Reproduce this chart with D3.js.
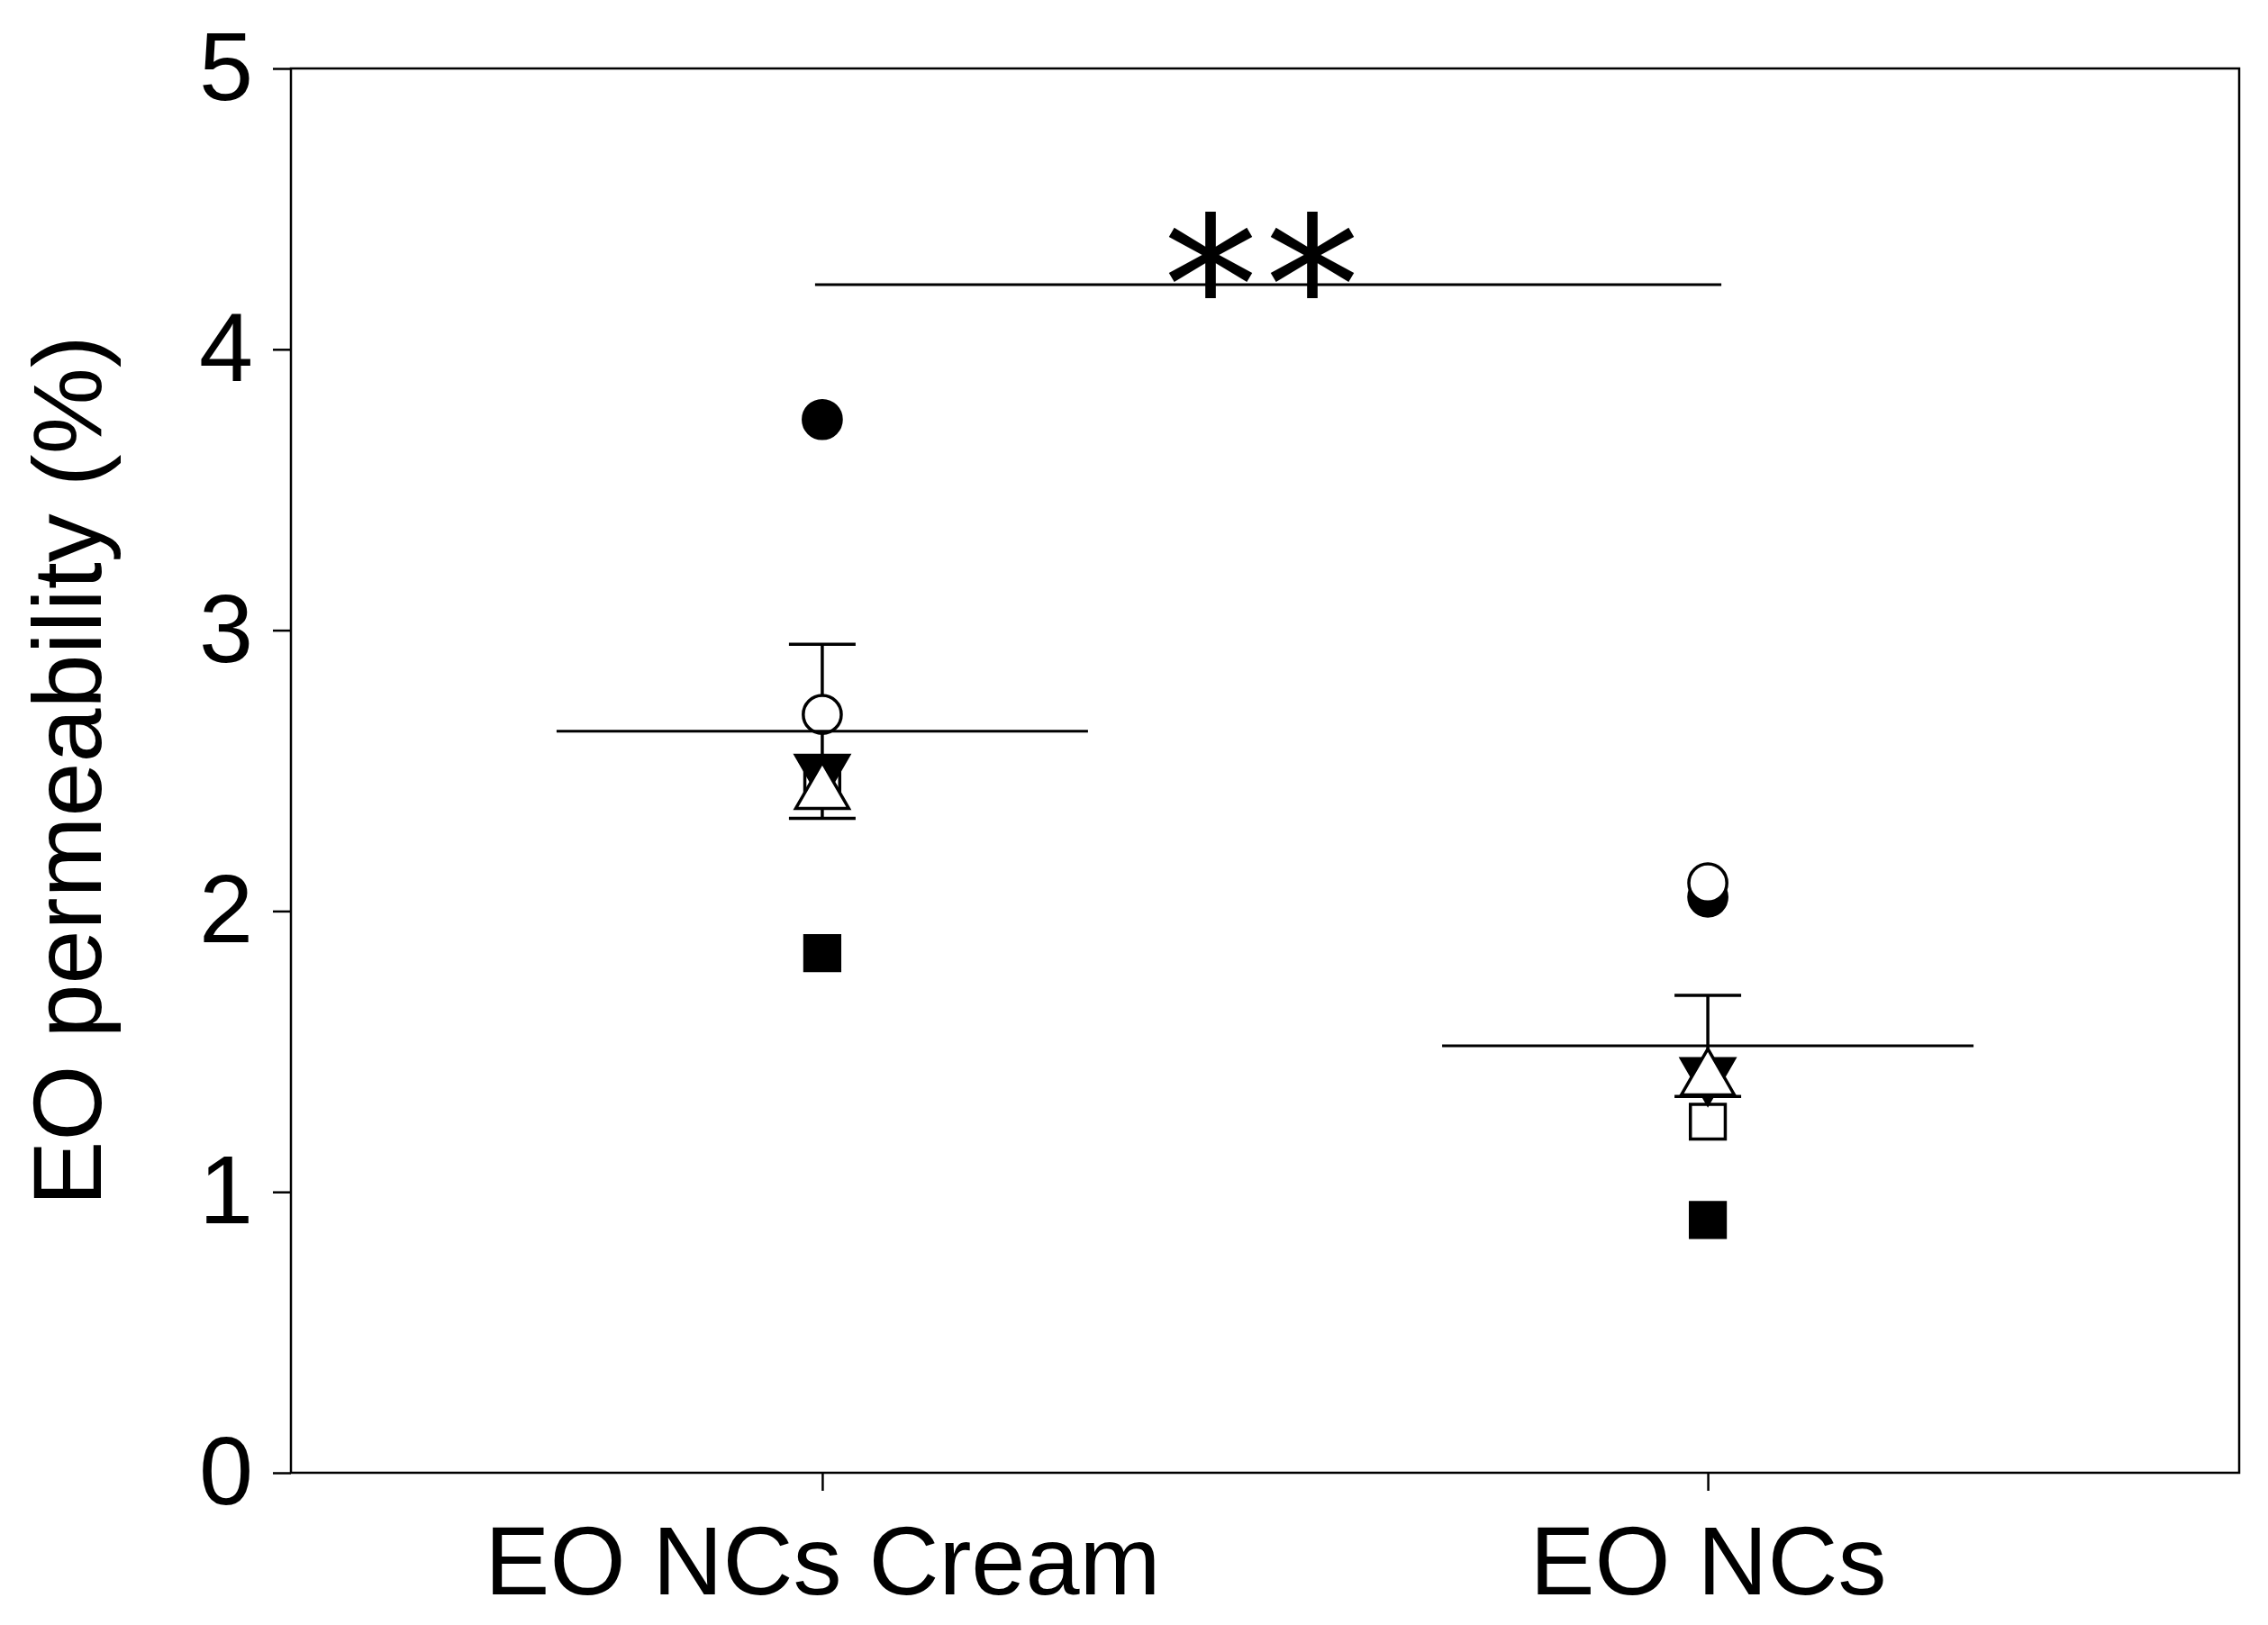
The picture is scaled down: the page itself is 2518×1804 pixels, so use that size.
<!DOCTYPE html>
<html><head><meta charset="utf-8">
<script src="https://cdn.jsdelivr.net/npm/d3@7"></script>
<style>body{margin:0;background:#fff}</style>
</head><body><div class="container"></div>
<script>
var groups = ["EO NCs Cream", "EO NCs"];
var shapes = ["circleFilled", "circleOpen", "triDownFilled", "triUpOpen", "squareFilled", "squareOpen"];
var creamValues = [3.75, 2.70, 2.50, 2.42, 1.85, 2.45];
var ncValues = [2.05, 2.10, 1.42, 1.40, 0.90, 1.25];
var means = [2.64, 1.52];
var sems = [0.31, 0.18];
var yTicks = [0, 1, 2, 3, 4, 5];

var width = 2518, height = 1804;
var margin = {top: 76, right: 32, bottom: 169, left: 323};

var svg = d3.select(".container").append("svg")
    .attr("width", width).attr("height", height);

var x = d3.scalePoint().domain(groups).range([margin.left, width - margin.right]).padding(0.6);
var y = d3.scaleLinear().domain([0, 5]).range([height - margin.bottom, margin.top]);

// frame
svg.append("rect")
    .attr("x", margin.left).attr("y", margin.top)
    .attr("width", width - margin.left - margin.right)
    .attr("height", height - margin.top - margin.bottom)
    .attr("fill", "none").attr("stroke", "#000").attr("stroke-width", 2.5);

var yAxis = svg.append("g")
    .attr("transform", "translate(" + margin.left + ",0)")
    .call(d3.axisLeft(y).tickValues(yTicks).tickFormat(d3.format("d")).tickSize(20).tickPadding(22));
var xAxis = svg.append("g")
    .attr("transform", "translate(0," + (height - margin.bottom) + ")")
    .call(d3.axisBottom(x).tickSize(20).tickPadding(38));
[yAxis, xAxis].forEach(function(a) {
  a.select(".domain").remove();
  a.selectAll("line").attr("stroke-width", 2.5);
  a.selectAll("text").attr("font-family", "Arial, Liberation Sans, sans-serif").attr("font-size", 108).attr("fill", "#000");
});

svg.append("text")
    .attr("transform", "translate(112," + ((margin.top + height - margin.bottom) / 2) + ") rotate(-90)")
    .attr("text-anchor", "middle")
    .attr("font-family", "Arial, Liberation Sans, sans-serif").attr("font-size", 108)
    .text("EO permeability (%)");

function symbolFor(s) {
  if (s.indexOf("circle") === 0) return d3.symbol(d3.symbolCircle, 1400)();
  if (s.indexOf("square") === 0) return d3.symbol(d3.symbolSquare, 1500)();
  return d3.symbol(d3.symbolTriangle, 1500)();
}

var halfMean = 295;
[creamValues, ncValues].forEach(function(vals, gi) {
  var cx = x(groups[gi]);
  var g = svg.append("g");
  // error bar
  g.append("line").attr("x1", cx).attr("x2", cx)
    .attr("y1", y(means[gi] - sems[gi])).attr("y2", y(means[gi] + sems[gi]))
    .attr("stroke", "#000").attr("stroke-width", 3.5);
  [means[gi] - sems[gi], means[gi] + sems[gi]].forEach(function(v) {
    g.append("line").attr("x1", cx - 37).attr("x2", cx + 37)
      .attr("y1", y(v)).attr("y2", y(v)).attr("stroke", "#000").attr("stroke-width", 3.5);
  });
  // points, open ones drawn last so they sit on top
  var order = [5, 4, 0, 2, 3, 1];
  order.forEach(function(i) {
    var s = shapes[i];
    var filled = s.indexOf("Filled") > 0;
    g.append("path")
      .attr("d", symbolFor(s))
      .attr("transform", "translate(" + cx + "," + y(vals[i]) + ")" + (s.indexOf("triDown") === 0 ? " rotate(180)" : ""))
      .attr("fill", filled ? "#000" : "#fff")
      .attr("stroke", "#000").attr("stroke-width", 3.5);
  });
  // mean line
  g.append("line").attr("x1", cx - halfMean).attr("x2", cx + halfMean)
    .attr("y1", y(means[gi])).attr("y2", y(means[gi]))
    .attr("stroke", "#000").attr("stroke-width", 3);
});

// significance
svg.append("line")
    .attr("x1", x(groups[0]) - 8).attr("x2", x(groups[1]) + 15)
    .attr("y1", y(4.23)).attr("y2", y(4.23))
    .attr("stroke", "#000").attr("stroke-width", 3);
svg.append("text")
    .attr("x", (x(groups[0]) + x(groups[1])) / 2).attr("y", y(4.23) + 75)
    .attr("text-anchor", "middle")
    .attr("font-family", "DejaVu Sans, sans-serif").attr("font-size", 210)
    .attr("letter-spacing", 8)
    .text("**");
</script>
</body></html>
